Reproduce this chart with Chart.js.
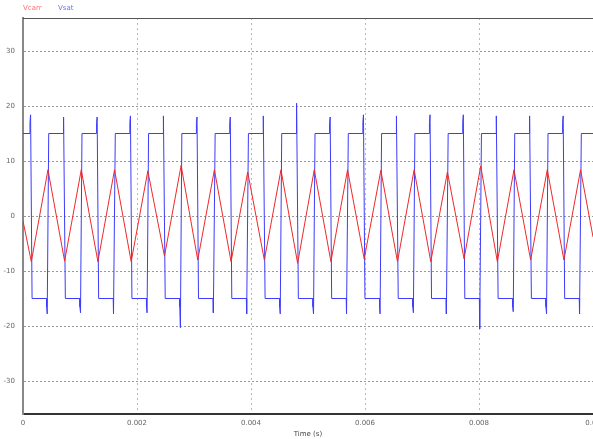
<!DOCTYPE html>
<html>
<head>
<meta charset="utf-8">
<script src="https://cdn.jsdelivr.net/npm/chart.js@4/dist/chart.umd.min.js"></script>
<style>
html,body{margin:0;padding:0;background:#fff;}
#wrap{width:593px;height:439px;position:relative;}
</style>
</head>
<body>
<div id="wrap"><canvas id="c"></canvas></div>
<script>
// ---- data ----
const seriesNames = ["Vcarr", "Vsat"];
const xTicks = [0, 0.002, 0.004, 0.006, 0.008, 0.01];
const yTicks = [-30, -20, -10, 0, 10, 20, 30];

// carrier triangle vertices (time s, value V)
const carrierTimes = [0,
  0.000146, 0.000438, 0.000730, 0.001022, 0.001314, 0.001606, 0.001898, 0.002190,
  0.002482, 0.002774, 0.003066, 0.003358, 0.003650, 0.003942, 0.004234, 0.004526,
  0.004818, 0.005110, 0.005402, 0.005694, 0.005986, 0.006278, 0.006570, 0.006862,
  0.007154, 0.007446, 0.007738, 0.008030, 0.008322, 0.008614, 0.008906, 0.009198,
  0.009490, 0.009782, 0.01];
const carrierValues = [-0.9,
  -8.3, 8.4, -8.2, 8.4, -8.3, 8.4, -8.3, 8.2,
  -7.3, 9.2, -8.0, 8.4, -8.3, 8.0, -8.0, 8.4,
  -8.6, 8.4, -8.3, 8.4, -7.8, 8.3, -8.3, 8.4,
  -8.3, 8.0, -7.8, 9.1, -8.3, 8.4, -8.0, 8.4,
  -8.0, 8.4, -3.8];

// Vsat: switching instants, and the spike value reached at each switch
const vsatSwitchTimes = [
  0.000146, 0.000438, 0.000730, 0.001022, 0.001314, 0.001606, 0.001898, 0.002190,
  0.002482, 0.002774, 0.003066, 0.003358, 0.003650, 0.003942, 0.004234, 0.004526,
  0.004818, 0.005110, 0.005402, 0.005694, 0.005986, 0.006278, 0.006570, 0.006862,
  0.007154, 0.007446, 0.007738, 0.008030, 0.008322, 0.008614, 0.008906, 0.009198,
  0.009490, 0.009782];
const vsatSpikes = [
  18.4, -17.8, 18.0, -17.6, 18.0, -17.8, 18.2, -17.6,
  18.2, -20.3, 18.0, -17.6, 18.0, -17.8, 18.2, -17.8,
  20.5, -17.8, 18.0, -17.8, 18.4, -17.8, 18.2, -17.6,
  18.4, -17.8, 18.4, -20.5, 18.2, -17.4, 18.2, -17.8,
  18.2, -17.8];
const vsatStart = 15;            // value before the first switch
const vsatLevels = [15, -15];    // saturation levels
const vsatPreStep = [17, -16.5]; // small step just before a switch
const vsatEnd = 0.01;

// ---- build datasets ----
const carrierData = carrierTimes.map((t, i) => ({x: t, y: carrierValues[i]}));
const lead = 0.0000234;
const edge = 0.000013;
const vsatData = [{x: 0, y: vsatStart}];
vsatSwitchTimes.forEach((t, i) => {
  const hi = vsatSpikes[i] > 0;
  const from = hi ? vsatLevels[0] : vsatLevels[1];
  const pre = hi ? vsatPreStep[0] : vsatPreStep[1];
  const to = hi ? vsatLevels[1] : vsatLevels[0];
  vsatData.push({x: t - lead, y: from});
  vsatData.push({x: t - lead, y: pre});
  vsatData.push({x: t - edge, y: vsatSpikes[i]});
  vsatData.push({x: t + edge, y: to});
});
vsatData.push({x: vsatEnd, y: vsatData[vsatData.length - 1].y});

const seriesColors = ["rgb(240,40,40)", "rgb(60,60,250)"];
const legendColors = ["rgb(255,110,110)", "rgb(110,110,255)"];

const whiteBg = {
  id: 'whiteBg',
  beforeDraw(chart) {
    const ctx = chart.ctx;
    ctx.save();
    ctx.fillStyle = '#ffffff';
    ctx.fillRect(0, 0, chart.width, chart.height);
    ctx.restore();
  }
};

const textLegend = {
  id: 'textLegend',
  afterDraw(chart) {
    const ctx = chart.ctx;
    ctx.save();
    ctx.font = '7px "DejaVu Sans", sans-serif';
    ctx.textBaseline = 'middle';
    const xs = [23, 58];
    chart.data.datasets.forEach((ds, i) => {
      ctx.fillStyle = legendColors[i];
      ctx.fillText(ds.label, xs[i], 8);
    });
    const a = chart.chartArea;
    ctx.strokeStyle = '#555';
    ctx.lineWidth = 1;
    ctx.beginPath();
    ctx.moveTo(a.left, a.top + 0.5);
    ctx.lineTo(a.right, a.top + 0.5);
    ctx.stroke();
    ctx.restore();
  }
};

new Chart(document.getElementById('c'), {
  type: 'line',
  data: {
    datasets: [
      {label: seriesNames[0], data: carrierData, borderColor: seriesColors[0], borderWidth: 1,
       pointRadius: 0, tension: 0, fill: false},
      {label: seriesNames[1], data: vsatData, borderColor: seriesColors[1], borderWidth: 1,
       pointRadius: 0, tension: 0, fill: false}
    ]
  },
  options: {
    responsive: true,
    maintainAspectRatio: false,
    animation: false,
    events: [],
    layout: {padding: {top: 18, left: 0, right: 0, bottom: 0}},
    plugins: {legend: {display: false}, tooltip: {enabled: false}},
    scales: {
      x: {
        type: 'linear',
        min: 0, max: 0.01,
        afterBuildTicks: s => { s.ticks = xTicks.map(v => ({value: v})); },
        afterFit: s => { s.height = 25; s.paddingLeft = 0; s.paddingRight = 0; },
        ticks: {
          padding: 5, color: '#666', maxRotation: 0, autoSkip: false,
          font: {size: 7, family: '"DejaVu Sans", sans-serif'},
          callback: v => String(v)
        },
        grid: {color: '#b8b8b8', drawTicks: false, lineWidth: 1},
        border: {display: true, color: '#333', width: 2, dash: [2, 3]},
        title: {display: true, text: 'Time (s)', color: '#444', padding: {top: 0, bottom: 1},
          font: {size: 7, family: '"DejaVu Sans", sans-serif'}}
      },
      y: {
        type: 'linear',
        min: -36, max: 36,
        afterBuildTicks: s => { s.ticks = yTicks.map(v => ({value: v})); },
        afterFit: s => { s.width = 23; s.paddingTop = 0; s.paddingBottom = 0; },
        ticks: {
          padding: 8, color: '#666',
          font: {size: 7, family: '"DejaVu Sans", sans-serif'}
        },
        grid: {color: '#999', drawTicks: false, lineWidth: 1},
        border: {display: true, color: '#888', width: 2, dash: [2, 2]}
      }
    }
  },
  plugins: [whiteBg, textLegend]
});
</script>
</body>
</html>
